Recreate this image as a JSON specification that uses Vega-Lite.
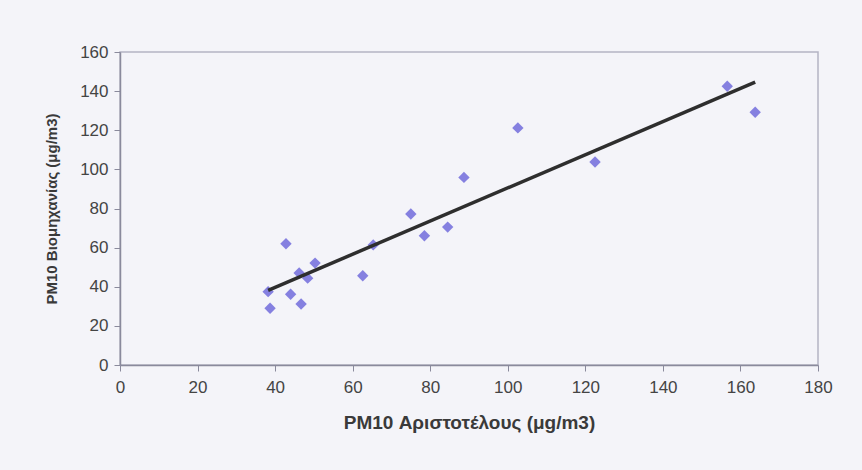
{
  "$schema": "https://vega.github.io/schema/vega-lite/v6.json",
  "autosize": "none",
  "width": 698,
  "height": 313,
  "padding": {"left": 120, "top": 52, "right": 44, "bottom": 105},
  "background": "#f4f4f9",
  "config": {
    "view": {"stroke": "#b4b4c4", "strokeWidth": 1.5},
    "axis": {
      "grid": false,
      "domainColor": "#8a8a9c",
      "domainWidth": 1.5,
      "tickColor": "#8a8a9c",
      "tickSize": 6,
      "labelFont": "Liberation Sans",
      "labelFontSize": 17,
      "labelColor": "#444444",
      "labelOverlap": false,
      "labelFlush": false,
      "titleFont": "Liberation Sans",
      "titleFontWeight": "bold",
      "titleColor": "#3a3a3a"
    }
  },
  "data": {
    "values": [
      {"x": 38.2, "y": 37.5},
      {"x": 38.7, "y": 29.0},
      {"x": 42.8, "y": 62.0},
      {"x": 44.0, "y": 36.2},
      {"x": 46.2, "y": 47.0},
      {"x": 46.7, "y": 31.2},
      {"x": 48.4, "y": 44.4},
      {"x": 50.3, "y": 52.1},
      {"x": 62.6, "y": 45.6},
      {"x": 65.3, "y": 61.4},
      {"x": 75.0, "y": 77.2},
      {"x": 78.5, "y": 66.1},
      {"x": 84.5, "y": 70.5},
      {"x": 88.7, "y": 95.9},
      {"x": 102.6, "y": 121.2},
      {"x": 122.5, "y": 103.8},
      {"x": 156.6, "y": 142.5},
      {"x": 163.8, "y": 129.2}
    ]
  },
  "encoding": {
    "x": {"field": "x", "type": "quantitative", "scale": {"domain": [0, 180], "nice": false}, "axis": {"values": [0,20,40,60,80,100,120,140,160,180], "tickCount": 20, "title": "PM10 Αριστοτέλους (μg/m3)", "titleFontSize": 19, "labelPadding": 8, "titlePadding": 18}},
    "y": {"field": "y", "type": "quantitative", "scale": {"domain": [0, 160], "nice": false}, "axis": {"values": [0,20,40,60,80,100,120,140,160], "tickCount": 20, "title": "PM10 Βιομηχανίας (μg/m3)", "titleFontSize": 15, "labelPadding": 6, "titlePadding": 20}}
  },
  "layer": [
    {
      "mark": {"type": "point", "shape": "diamond", "filled": true, "size": 130, "color": "#8580e0", "opacity": 1}
    },
    {
      "transform": [{"regression": "y", "on": "x"}],
      "mark": {"type": "line", "color": "#2e2e2e", "strokeWidth": 3.5}
    }
  ]
}
